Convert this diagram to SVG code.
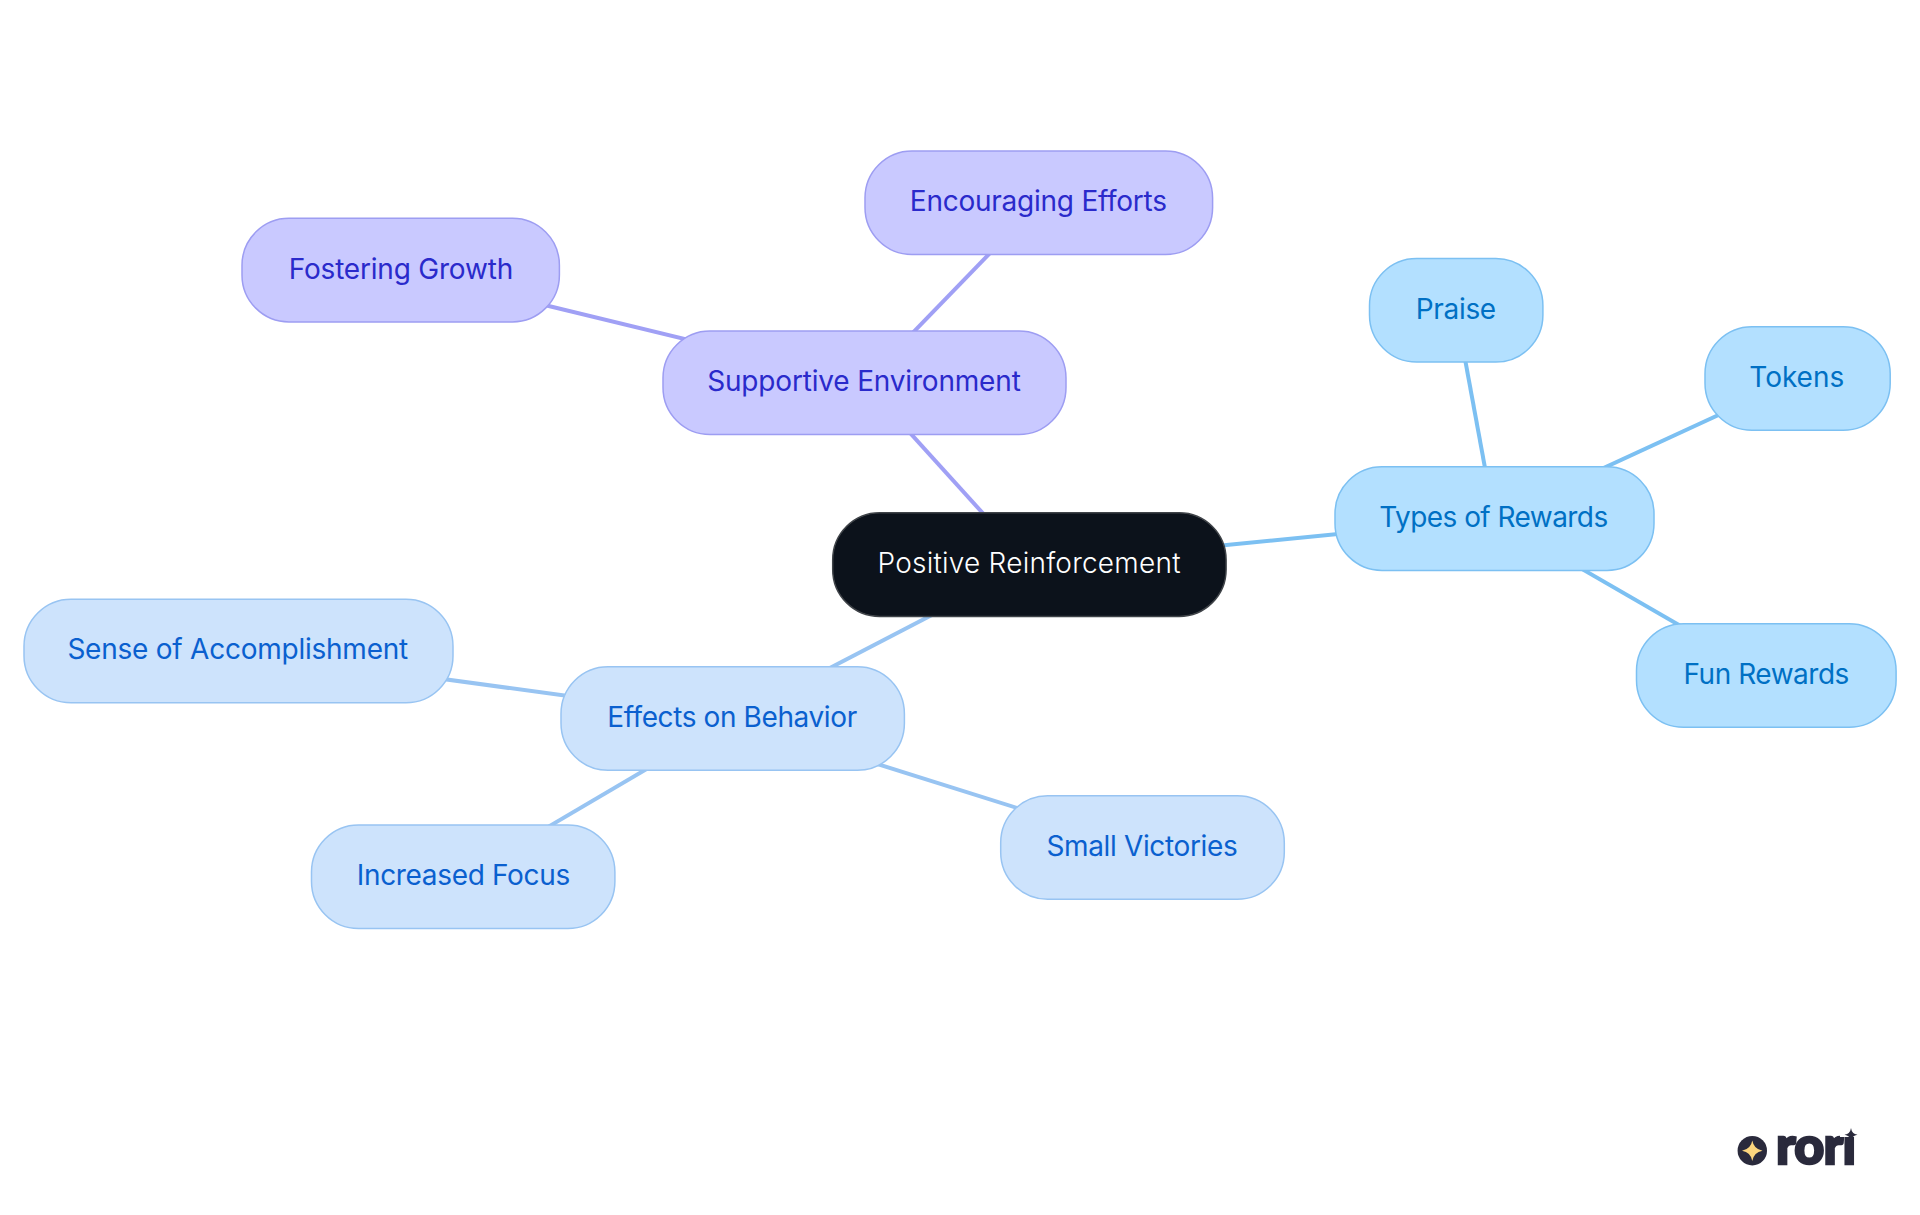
<svg xmlns="http://www.w3.org/2000/svg" width="1920" height="1215" viewBox="0 0 1920 1215">
<style>
text{font-family:"Inter","Noto Sans","Liberation Sans",sans-serif;font-size:28px;font-weight:400}
.edge{stroke-width:4;fill:none}
.n{stroke-width:1.5}
.root .n{fill:#0c121b;stroke:#3f4348}.root text{fill:#fff;font-weight:300}
.p .n{fill:#c9c9ff;stroke:#9d9df2}.p text{fill:#2a2acb}.pe{stroke:#a0a0f5}
.s .n{fill:#b3e0ff;stroke:#7cc0f2}.s text{fill:#0070c4}.se{stroke:#7cc0f2}
.b .n{fill:#cde3fc;stroke:#98c4f2}.b text{fill:#0a60cf}.be{stroke:#98c4f2}
</style>
<rect width="1920" height="1215" fill="#fff"/>
<g id="connectors">
<line class="edge pe" x1="1029.3" y1="564.5" x2="864.5" y2="382.7"/>
<line class="edge pe" x1="864.5" y1="382.7" x2="1038.8" y2="202.7"/>
<line class="edge pe" x1="864.5" y1="382.7" x2="400.5" y2="270"/>
<line class="edge se" x1="1029.3" y1="564.5" x2="1494.3" y2="518.4"/>
<line class="edge se" x1="1494.3" y1="518.4" x2="1456" y2="310.2"/>
<line class="edge se" x1="1494.3" y1="518.4" x2="1797.6" y2="378.5"/>
<line class="edge se" x1="1494.3" y1="518.4" x2="1766.4" y2="675.5"/>
<line class="edge be" x1="1029.3" y1="564.5" x2="732.5" y2="718.5"/>
<line class="edge be" x1="732.5" y1="718.5" x2="238.3" y2="651"/>
<line class="edge be" x1="732.5" y1="718.5" x2="463" y2="877"/>
<line class="edge be" x1="732.5" y1="718.5" x2="1142.6" y2="847.4"/>
</g>
<g id="root" class="root"><rect class="n" x="832.7" y="512.8" width="393.4" height="103.6" rx="47"/><text x="877.5" y="573" textLength="303">Positive Reinforcement</text></g>
<g id="supportive" class="p"><rect class="n" x="663" y="331" width="403" height="103.6" rx="47"/><text x="707.2" y="391" textLength="313.6">Supportive Environment</text></g>
<g id="encouraging" class="p"><rect class="n" x="865" y="151" width="347.6" height="103.6" rx="47"/><text x="909.8" y="211" textLength="257.2">Encouraging Efforts</text></g>
<g id="fostering" class="p"><rect class="n" x="242" y="218.3" width="317.4" height="103.6" rx="47"/><text x="288.8" y="279" textLength="224.4">Fostering Growth</text></g>
<g id="types" class="s"><rect class="n" x="1335" y="466.8" width="319" height="103.6" rx="47"/><text x="1379.3" y="527" textLength="228.9">Types of Rewards</text></g>
<g id="praise" class="s"><rect class="n" x="1369.5" y="258.5" width="173.4" height="103.6" rx="47"/><text x="1415.8" y="319" textLength="80.4">Praise</text></g>
<g id="tokens" class="s"><rect class="n" x="1705" y="326.7" width="185.2" height="103.6" rx="47"/><text x="1749.3" y="387" textLength="94.9">Tokens</text></g>
<g id="fun" class="s"><rect class="n" x="1636.5" y="623.7" width="259.6" height="103.6" rx="47"/><text x="1683.5" y="683.5" textLength="165.9">Fun Rewards</text></g>
<g id="effects" class="b"><rect class="n" x="561" y="666.7" width="343.4" height="103.6" rx="47"/><text x="607.2" y="727" textLength="250">Effects on Behavior</text></g>
<g id="sense" class="b"><rect class="n" x="24" y="599.2" width="429" height="103.6" rx="47"/><text x="67.4" y="659" textLength="340.8">Sense of Accomplishment</text></g>
<g id="increased" class="b"><rect class="n" x="311.5" y="825" width="303.4" height="103.6" rx="47"/><text x="356.8" y="885" textLength="213.4">Increased Focus</text></g>
<g id="small" class="b"><rect class="n" x="1000.7" y="795.7" width="283.6" height="103.6" rx="47"/><text x="1046.4" y="856" textLength="191.4">Small Victories</text></g>
<g id="logo">
<circle cx="1752.3" cy="1150.7" r="14.7" fill="#2a2a3c"/>
<path d="M1752.3 1140.5Q1753.8 1149.2 1762.5 1150.7Q1753.8 1152.2 1752.3 1161Q1750.8 1152.2 1742 1150.7Q1750.8 1149.2 1752.3 1140.5Z" fill="#fcd67e"/>
<text x="1776" y="1163.5" textLength="80" style="font-family:Lato,'Liberation Sans',sans-serif;font-size:52px;font-weight:900;fill:#2a2a3c;stroke:#2a2a3c;stroke-width:2.4">rori</text>
<rect x="1840" y="1122" width="22" height="15" fill="#fff"/>
<path d="M1851 1128Q1851.8 1134 1857.5 1134.7Q1851.8 1135.5 1851 1141.5Q1850.2 1135.5 1844.5 1134.7Q1850.2 1134 1851 1128Z" fill="#2a2a3c"/>
</g>
</svg>
